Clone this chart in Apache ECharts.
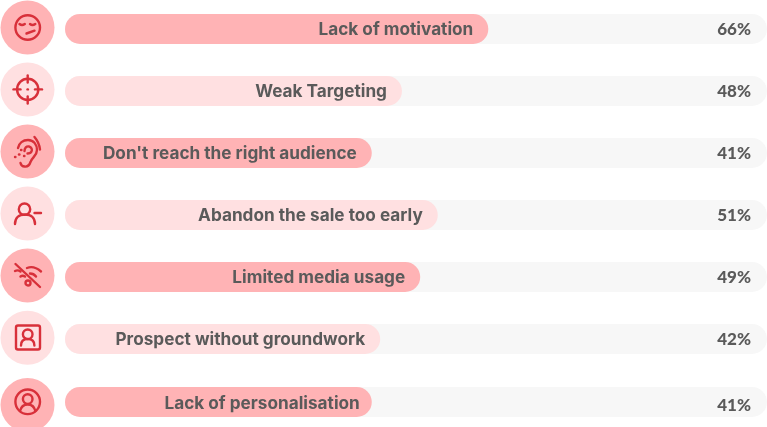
<!DOCTYPE html>
<html><head><meta charset="utf-8">
<style>html,body{margin:0;padding:0;background:#fff}#c{width:767px;height:427px}</style>
<script src="https://cdn.jsdelivr.net/npm/echarts@6/dist/echarts.min.js"></script></head>
<body><div id="c"></div>
<script>
const categories = ["Lack of motivation","Weak Targeting","Don't reach the right audience","Abandon the sale too early","Limited media usage","Prospect without groundwork","Lack of personalisation"];
const printedPercent = ["66%","48%","41%","51%","49%","42%","41%"];
const barLengths = [60.3,48,43.7,53.1,50.6,44.9,43.7];
const trackValues = [100,100,100,100,100,100,100];
const DARK='#ffb3b5', LIGHT='#ffe0e1', TRACK='#f7f7f7', RED='#d8303a', INK='#5a5a5a';
const labelBase={fontFamily:'Inter',fontWeight:700,fontSize:17.2,color:INK};
const pctBase={fontFamily:'Lato',fontWeight:900,fontSize:17,color:INK};
const rows=[0,1,2,3,4,5];
const last=[6];
function build(idx,xi,yi){
  return [
   {type:'bar',xAxisIndex:xi,yAxisIndex:yi,barWidth:30,barGap:'-100%',silent:true,
    data:idx.map(i=>trackValues[i]),itemStyle:{color:TRACK,borderRadius:15},
    label:{show:true,position:'insideRight',distance:16,...pctBase,offset:xi?[0,4]:[0,1],
      formatter:p=>printedPercent[idx[p.dataIndex]]}},
   {type:'bar',xAxisIndex:xi,yAxisIndex:yi,barWidth:30,silent:true,
    data:idx.map(i=>({value:barLengths[i],itemStyle:{color:i%2?LIGHT:DARK,borderRadius:15}})),
    label:{show:true,position:'insideRight',distance:xi?12:15,...labelBase,offset:xi?[0,2]:[0,1],
      formatter:p=>categories[idx[p.dataIndex]]}}
  ];
}
const icons=[
 {cy:27.5,fill:DARK,d:['M27.700 15.200a12.300 12.300 0 1 0 .01 0Z','M19.500 24c1.500 1.300 3.500 1.300 5.300 0','M30 24c1.500 1.300 3.500 1.300 5.300 0','M26.500 33.500l8-2.800']},
 {cy:89.5,fill:LIGHT,d:['M27.700 78.800a10.600 10.600 0 1 0 .01 0Z','M27.700 75.500v7','M27.700 96.500v7','M13.500 89.400h7','M35 89.400h7','M27.500 89.400h.4']},
 {cy:151.5,fill:DARK,d:['M18 148c1-5 5-8 10-8 6 0 9 5 9 10 0 6-5 7-6.500 12-1 3-3 5-6 4.500-2 0-3.500-1.500-4-3.500','M24.500 151c0-3 2-5 4.500-4.500s3.500 3 2.500 5-3 2-4 2','M34.500 137c3 3.500 5 8 5.500 12.500','M21 150h.4','M19 154.500h.4','M15 157h.4','M24 156h.4']},
 {cy:213.5,fill:LIGHT,d:['M24.500 203.500a5.700 5.700 0 1 0 .01 0Z','M15 224c0-6 4-9.500 10-9.500s10 3.500 10 9.500','M34.500 213h6.500']},
 {cy:275.5,fill:DARK,d:['M15.500 264l24.500 23','M15 271c2-1 3.500-1 5.500.5','M20.500 276.500c1.500-1 3-1 4.500 0','M27 268c5-2 10 0 14 3.500','M30 273.500c2.500 0 4.500 1 6 3','M28 280.500a2.500 2.500 0 1 0 .01 0Z']},
 {cy:337.7,fill:LIGHT,d:['M18 325.500h20a2 2 0 0 1 2 2v20a2 2 0 0 1-2 2h-20a2 2 0 0 1-2-2v-20a2 2 0 0 1 2-2Z','M27.700 329.500a4.800 4.800 0 1 0 .01 0Z','M21 345.500c0-4.500 3-6.500 6.700-6.500s6.700 2 6.700 6.500']},
 {cy:405,fill:DARK,d:['M27.700 389.500a12.300 12.300 0 1 0 .01 0Z','M27.700 394.300a4.800 4.800 0 1 0 .01 0Z','M20 411c1-4 4-6.500 7.700-6.500s6.700 2.500 7.700 6.500']}
];
const graphics=[];
let shapeId=0;
icons.forEach(o=>{
  graphics.push({type:'circle',shape:{cx:27.5,cy:o.cy,r:27},style:{fill:o.fill},silent:true});
  o.d.forEach(d=>{
    const name='iconPath'+(shapeId++);
    echarts.graphic.registerShape(name,echarts.graphic.extendPath(d,{}));
    graphics.push({type:name,silent:true,style:{fill:'none',stroke:RED,lineWidth:2.4,lineCap:'round',lineJoin:'round'},z:5});
  });
});
const chart=echarts.init(document.getElementById('c'),null,{renderer:'canvas'});
const xa=()=>({type:'value',min:0,max:100,show:false});
const ya=(d)=>({type:'category',inverse:true,data:d,show:false,axisLine:{show:false},axisTick:{show:false}});
chart.setOption({
  animation:false,
  backgroundColor:'#fff',
  grid:[{left:65,right:0,top:-2,height:372,outerBoundsMode:'none'},{left:65,right:0,top:371,height:62,outerBoundsMode:'none'}],
  xAxis:[{...xa(),gridIndex:0},{...xa(),gridIndex:1}],
  yAxis:[{...ya(rows.map(i=>categories[i])),gridIndex:0},{...ya(last.map(i=>categories[i])),gridIndex:1}],
  series:[...build(rows,0,0),...build(last,1,1)],
  graphic:graphics
});
</script></body></html>
